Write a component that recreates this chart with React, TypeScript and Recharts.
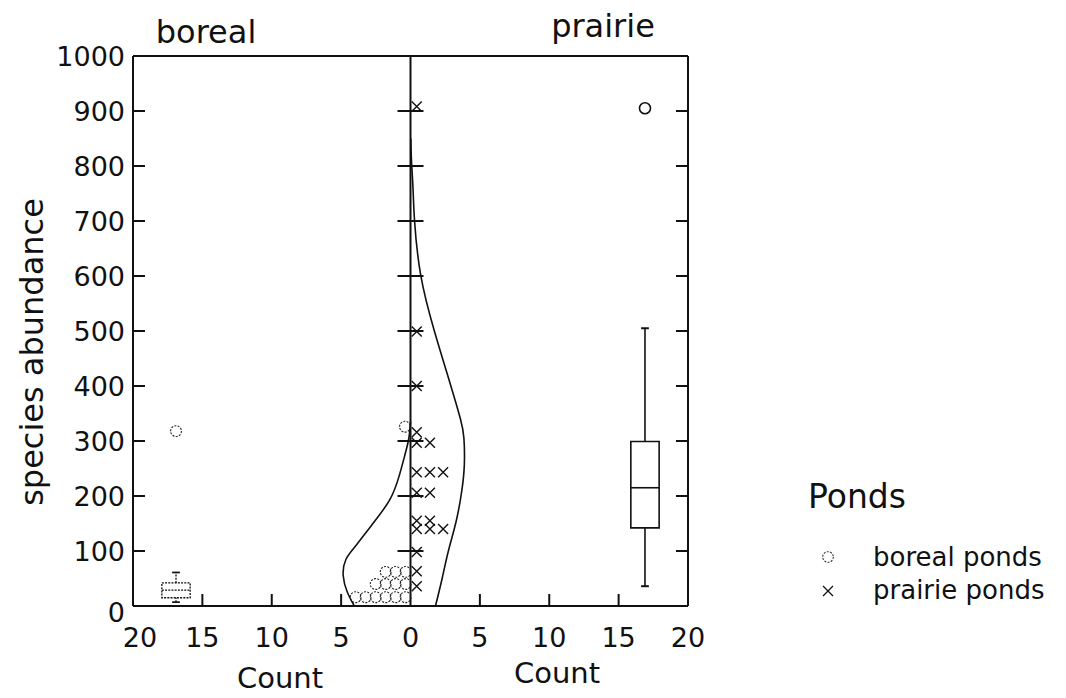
import React from 'react';
import {
  ComposedChart,
  XAxis,
  YAxis,
  Scatter,
  Line,
  ReferenceLine,
  ReferenceArea,
  Legend,
} from 'recharts';

const FONT = '"DejaVu Sans", "Liberation Sans", Arial, sans-serif';
const INK = '#111';

// ---- tick values & labels ----
const COUNT_TICKS = [-20, -15, -10, -5, 0, 5, 10, 15, 20];
const TOP_TICKS = [-18, -15, -12, -9, -6, -3, 3, 6, 9, 12, 15, 18];
const ABUNDANCE_TICKS = [0, 100, 200, 300, 400, 500, 600, 700, 800, 900, 1000];

const PANEL_TITLES = ['boreal', 'prairie'];
const X_TITLE = 'Count';
const Y_TITLE = 'species abundance';
const LEGEND_TITLE = 'Ponds';
const SERIES_NAMES = ['boreal ponds', 'prairie ponds'];

// ---- dot plot (stack position in counts, abundance) ----
const borealDots = [
  { x: -0.35, y: 16 }, { x: -1.07, y: 16 }, { x: -1.79, y: 16 },
  { x: -2.51, y: 16 }, { x: -3.23, y: 16 }, { x: -3.95, y: 16 },
  { x: -0.35, y: 40 }, { x: -1.07, y: 40 }, { x: -1.79, y: 40 }, { x: -2.51, y: 40 },
  { x: -0.35, y: 62 }, { x: -1.07, y: 62 }, { x: -1.79, y: 62 },
  { x: -0.4, y: 326 },
];

const prairieDots = [
  { x: 0.45, y: 36 }, { x: 0.45, y: 63 }, { x: 0.45, y: 98 },
  { x: 0.45, y: 140 }, { x: 1.4, y: 140 }, { x: 2.35, y: 140 },
  { x: 0.45, y: 155 }, { x: 1.4, y: 155 },
  { x: 0.45, y: 206 }, { x: 1.4, y: 206 },
  { x: 0.45, y: 243 }, { x: 1.4, y: 243 }, { x: 2.35, y: 243 },
  { x: 0.45, y: 297 }, { x: 1.4, y: 297 },
  { x: 0.45, y: 316 },
  { x: 0.45, y: 400 }, { x: 0.45, y: 499 }, { x: 0.45, y: 908 },
];

// ---- fitted density outlines (count, abundance) ----
const borealDensity = [
  { x: -4.05, y: 0 }, { x: -4.55, y: 25 }, { x: -4.85, y: 55 }, { x: -4.65, y: 85 },
  { x: -3.9, y: 111 }, { x: -2.8, y: 147 }, { x: -1.5, y: 193 }, { x: -0.8, y: 238 },
  { x: -0.4, y: 275 }, { x: -0.12, y: 305 }, { x: 0, y: 335 },
];

const prairieDensity = [
  { x: 1.8, y: 0 }, { x: 2.28, y: 50 }, { x: 2.73, y: 100 }, { x: 3.3, y: 155 },
  { x: 3.7, y: 210 }, { x: 3.88, y: 257 }, { x: 3.85, y: 305 }, { x: 3.6, y: 340 },
  { x: 2.85, y: 405 }, { x: 1.73, y: 499 }, { x: 0.74, y: 601 }, { x: 0.29, y: 701 },
  { x: 0.18, y: 760 }, { x: 0.07, y: 810 }, { x: 0.02, y: 850 },
];

// ---- box plots ----
const BOX_CENTER = [-16.9, 16.9];
const BOX_MIN = [7, 36];
const BOX_Q1 = [15, 142];
const BOX_MEDIAN = [29, 215];
const BOX_Q3 = [42, 299];
const BOX_MAX = [61, 505];
const borealOutliers = [{ x: -16.9, y: 318 }];
const prairieOutliers = [{ x: 16.9, y: 905 }];

// ---- layout ----
const W = 1066;
const H = 698;
const PLOT_LEFT = 133;
const PLOT_RIGHT = 688;
const PLOT_TOP = 56;
const PLOT_BOTTOM = 606;
const CX = (PLOT_LEFT + PLOT_RIGHT) / 2;
const BOX_HALF = 1.02;
const CAP_HALF = 0.28;
const TICK_LEN = 12;

const LeftTick = (props: any) => {
  const { y, payload } = props;
  const v = payload.value;
  const inner = v > 0 && v < 1000;
  return (
    <g>
      {inner && <line x1={PLOT_LEFT} x2={PLOT_LEFT + TICK_LEN} y1={y} y2={y} stroke={INK} strokeWidth={2} />}
      {inner && <line x1={CX - 13} x2={CX + 13} y1={y} y2={y} stroke={INK} strokeWidth={2} />}
      <text
        x={PLOT_LEFT - 8}
        y={y + (v === 0 ? 6 : 0)}
        dy="0.36em"
        textAnchor="end"
        fontFamily={FONT}
        fontSize={27}
        fill={INK}
      >
        {v}
      </text>
    </g>
  );
};

const RightTick = (props: any) => {
  const { y, payload } = props;
  const v = payload.value;
  if (!(v > 0 && v < 1000)) return <g />;
  return <line x1={PLOT_RIGHT - TICK_LEN} x2={PLOT_RIGHT} y1={y} y2={y} stroke={INK} strokeWidth={2} />;
};

const TopTick = (props: any) => {
  const { x } = props;
  return <line x1={x} x2={x} y1={PLOT_TOP} y2={PLOT_TOP + 11} stroke={INK} strokeWidth={2} />;
};

const BottomTick = (props: any) => {
  const { x, payload } = props;
  const v = payload.value;
  const a = Math.abs(v);
  return (
    <g>
      {a > 0 && a < 20 && (
        <line x1={x} x2={x} y1={PLOT_BOTTOM - TICK_LEN} y2={PLOT_BOTTOM} stroke={INK} strokeWidth={2} />
      )}
      <text
        x={x + (v === -20 ? 7 : 0)}
        y={PLOT_BOTTOM + 31}
        dy="0.36em"
        textAnchor="middle"
        fontFamily={FONT}
        fontSize={27}
        fill={INK}
      >
        {a}
      </text>
    </g>
  );
};

const OpenCircle = (p: any) => (
  <circle cx={p.cx} cy={p.cy} r={5.4} fill="none" stroke="#222" strokeWidth={1.1} strokeDasharray="2 1.3" />
);

const SolidCircle = (p: any) => (
  <circle cx={p.cx} cy={p.cy} r={5.5} fill="none" stroke={INK} strokeWidth={1.6} />
);

const Cross = (p: any) => {
  const s = 5;
  return (
    <path
      d={`M${p.cx - s},${p.cy - s}L${p.cx + s},${p.cy + s}M${p.cx + s},${p.cy - s}L${p.cx - s},${p.cy + s}`}
      stroke={INK}
      strokeWidth={1.4}
      fill="none"
    />
  );
};

const renderLegend = () => (
  <svg width={306} height={160} style={{ display: 'block', overflow: 'visible' }}>
    <text x={48} y={38} fontFamily={FONT} fontSize={33} fill={INK}>
      {LEGEND_TITLE}
    </text>
    <circle cx={68} cy={87} r={5.3} fill="none" stroke="#333" strokeWidth={1.1} strokeDasharray="2 1.3" />
    <text x={113} y={96} fontFamily={FONT} fontSize={26} fill={INK}>
      {SERIES_NAMES[0]}
    </text>
    <path d="M63,116L73,126M73,116L63,126" stroke={INK} strokeWidth={1.3} fill="none" />
    <text x={113} y={129} fontFamily={FONT} fontSize={26} fill={INK}>
      {SERIES_NAMES[1]}
    </text>
  </svg>
);

const TopTitles = () => (
  <g>
    <text x={206} y={43} textAnchor="middle" fontFamily={FONT} fontSize={32} fill={INK}>
      {PANEL_TITLES[0]}
    </text>
    <text x={603} y={37} textAnchor="middle" fontFamily={FONT} fontSize={32} fill={INK}>
      {PANEL_TITLES[1]}
    </text>
  </g>
);

const BottomTitles = () => (
  <g>
    <text x={280} y={688} textAnchor="middle" fontFamily={FONT} fontSize={29} fill={INK}>
      {X_TITLE}
    </text>
    <text x={557} y={683} textAnchor="middle" fontFamily={FONT} fontSize={29} fill={INK}>
      {X_TITLE}
    </text>
  </g>
);

const YTitle = () => (
  <text
    x={43}
    y={352}
    transform="rotate(-90, 43, 352)"
    textAnchor="middle"
    fontFamily={FONT}
    fontSize={32}
    fill={INK}
  >
    {Y_TITLE}
  </text>
);

export default function App() {
  const axisLine = { stroke: INK, strokeWidth: 2 };
  return (
    <div style={{ position: 'absolute', left: 0, top: 0, background: '#fff' }}>
      <ComposedChart width={W} height={H} margin={{ top: 0, right: 0, bottom: 0, left: 0 }}>
        <XAxis
          xAxisId="b"
          dataKey="x"
          type="number"
          orientation="bottom"
          domain={[-20, 20]}
          ticks={COUNT_TICKS}
          allowDataOverflow
          height={H - PLOT_BOTTOM}
          axisLine={axisLine}
          tickLine={false}
          tickSize={0}
          tickMargin={0}
          tick={BottomTick}
          interval={0}
          label={{ content: () => <BottomTitles /> }}
        />
        <XAxis
          xAxisId="t"
          type="number"
          orientation="top"
          domain={[-20, 20]}
          ticks={TOP_TICKS}
          allowDataOverflow
          height={PLOT_TOP}
          axisLine={axisLine}
          tickLine={false}
          tickSize={0}
          tickMargin={0}
          tick={TopTick}
          interval={0}
          label={{ content: () => <TopTitles /> }}
        />
        <YAxis
          yAxisId="l"
          dataKey="y"
          type="number"
          orientation="left"
          domain={[0, 1000]}
          ticks={ABUNDANCE_TICKS}
          allowDataOverflow
          width={PLOT_LEFT}
          axisLine={axisLine}
          tickLine={false}
          tickSize={0}
          tickMargin={0}
          tick={LeftTick}
          interval={0}
          label={{ content: () => <YTitle /> }}
        />
        <YAxis
          yAxisId="r"
          type="number"
          orientation="right"
          domain={[0, 1000]}
          ticks={ABUNDANCE_TICKS}
          allowDataOverflow
          width={W - PLOT_RIGHT}
          axisLine={axisLine}
          tickLine={false}
          tickSize={0}
          tickMargin={0}
          tick={RightTick}
          interval={0}
        />

        <ReferenceLine xAxisId="b" yAxisId="l" x={0} stroke={INK} strokeWidth={2} />

        <Line
          xAxisId="b"
          yAxisId="l"
          data={borealDensity}
          dataKey="y"
          type="natural"
          stroke={INK}
          strokeWidth={1.6}
          dot={false}
          activeDot={false}
          legendType="none"
          isAnimationActive={false}
        />
        <Line
          xAxisId="b"
          yAxisId="l"
          data={prairieDensity}
          dataKey="y"
          type="natural"
          stroke={INK}
          strokeWidth={1.6}
          dot={false}
          activeDot={false}
          legendType="none"
          isAnimationActive={false}
        />

        {BOX_CENTER.map((c, i) => {
          const dash = i === 0 ? '2 1.2' : undefined;
          const sw = i === 0 ? 1.3 : 1.6;
          return (
            <React.Fragment key={`box-${i}`}>
              <ReferenceLine
                xAxisId="b"
                yAxisId="l"
                segment={[{ x: c, y: BOX_Q3[i] }, { x: c, y: BOX_MAX[i] }]}
                stroke={INK}
                strokeWidth={sw}
                strokeDasharray={dash}
              />
              <ReferenceLine
                xAxisId="b"
                yAxisId="l"
                segment={[{ x: c, y: BOX_MIN[i] }, { x: c, y: BOX_Q1[i] }]}
                stroke={INK}
                strokeWidth={sw}
                strokeDasharray={dash}
              />
              <ReferenceLine
                xAxisId="b"
                yAxisId="l"
                segment={[{ x: c - CAP_HALF, y: BOX_MAX[i] }, { x: c + CAP_HALF, y: BOX_MAX[i] }]}
                stroke={INK}
                strokeWidth={sw + 0.4}
              />
              <ReferenceLine
                xAxisId="b"
                yAxisId="l"
                segment={[{ x: c - CAP_HALF, y: BOX_MIN[i] }, { x: c + CAP_HALF, y: BOX_MIN[i] }]}
                stroke={INK}
                strokeWidth={sw + 0.4}
              />
              <ReferenceArea
                xAxisId="b"
                yAxisId="l"
                x1={c - BOX_HALF}
                x2={c + BOX_HALF}
                y1={BOX_Q1[i]}
                y2={BOX_Q3[i]}
                fill="#fff"
                fillOpacity={0}
                stroke={INK}
                strokeWidth={sw}
                strokeDasharray={dash}
              />
              <ReferenceLine
                xAxisId="b"
                yAxisId="l"
                segment={[{ x: c - BOX_HALF, y: BOX_MEDIAN[i] }, { x: c + BOX_HALF, y: BOX_MEDIAN[i] }]}
                stroke={INK}
                strokeWidth={sw}
                strokeDasharray={dash}
              />
            </React.Fragment>
          );
        })}

        <Scatter
          xAxisId="b"
          yAxisId="l"
          name={SERIES_NAMES[0]}
          data={borealDots}
          shape={OpenCircle}
          isAnimationActive={false}
        />
        <Scatter
          xAxisId="b"
          yAxisId="l"
          name={SERIES_NAMES[1]}
          data={prairieDots}
          shape={Cross}
          isAnimationActive={false}
        />
        <Scatter
          xAxisId="b"
          yAxisId="l"
          data={borealOutliers}
          shape={OpenCircle}
          legendType="none"
          isAnimationActive={false}
        />
        <Scatter
          xAxisId="b"
          yAxisId="l"
          data={prairieOutliers}
          shape={SolidCircle}
          legendType="none"
          isAnimationActive={false}
        />

        <Legend
          layout="vertical"
          align="center"
          verticalAlign="middle"
          content={renderLegend}
          wrapperStyle={{ position: 'absolute', left: 760, top: 470, width: 306, height: 160 }}
        />
      </ComposedChart>
    </div>
  );
}
